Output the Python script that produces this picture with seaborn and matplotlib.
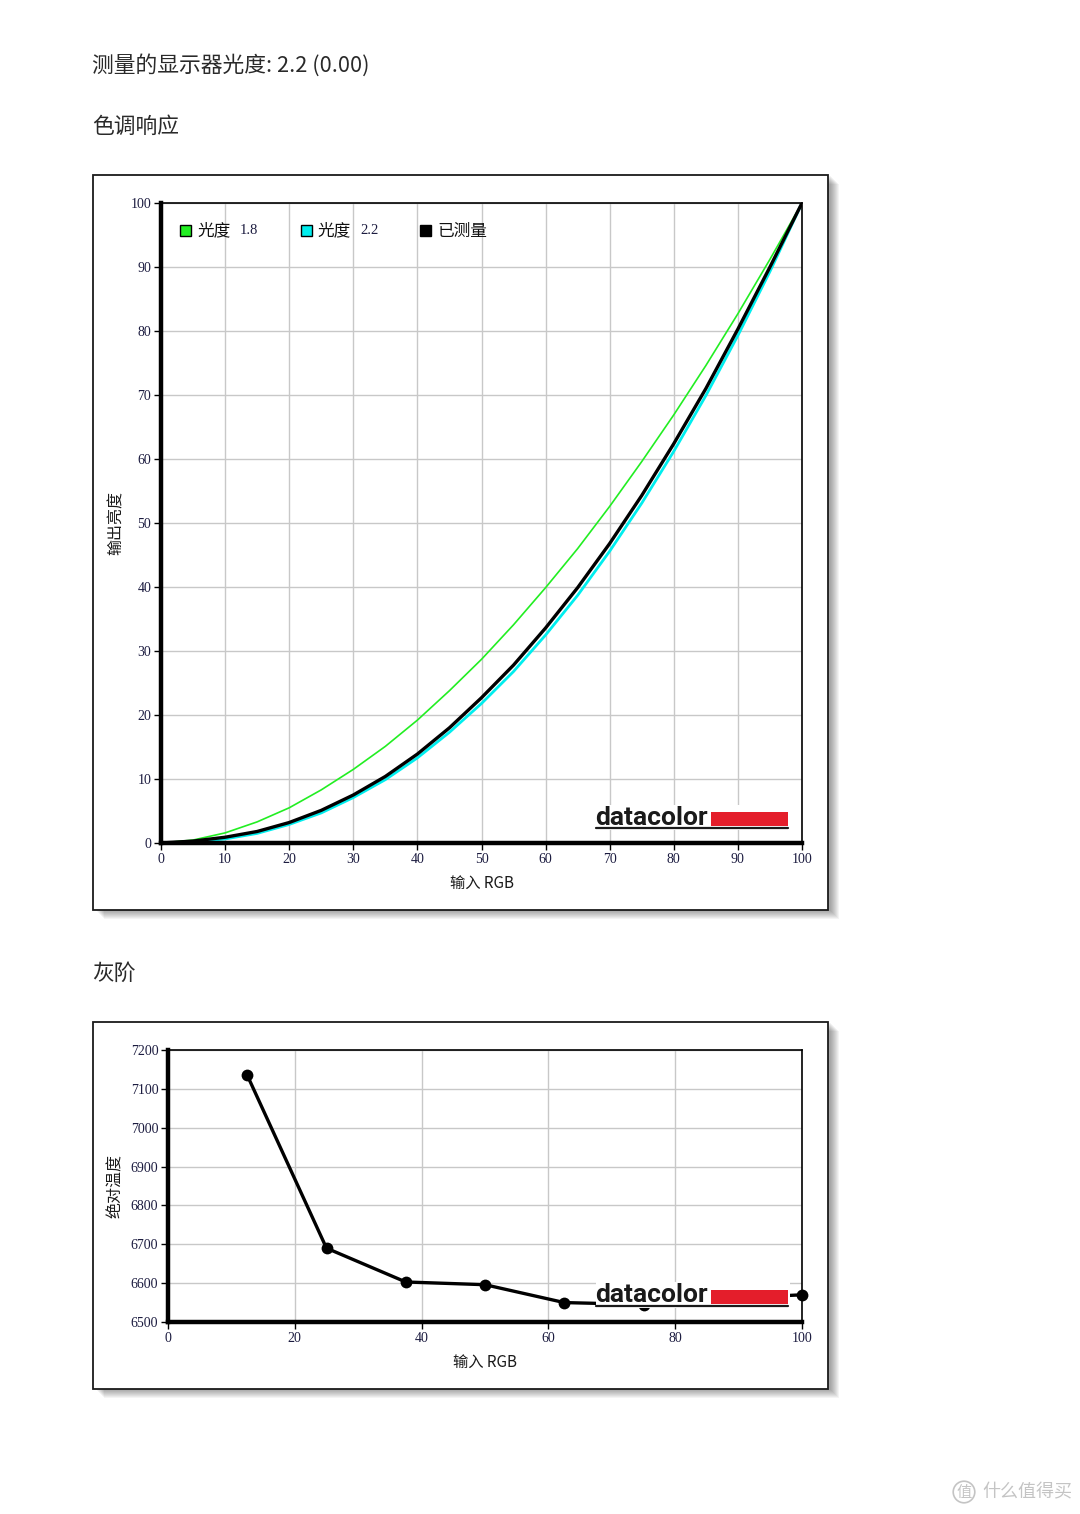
import numpy as np
import pandas as pd
import matplotlib
matplotlib.use("Agg")
import matplotlib.pyplot as plt
from matplotlib.patches import Rectangle
from matplotlib.lines import Line2D
import seaborn as sns

# ---------------- data ----------------
rgb_in = [0, 5, 10, 15, 20, 25, 30, 35, 40, 45, 50, 55, 60, 65, 70, 75, 80, 85, 90, 95, 100]
gamma18 = [0, 0.46, 1.58, 3.3, 5.5, 8.3, 11.5, 15.1, 19.2, 23.8, 28.7, 34.1, 39.9, 46.0, 52.6, 59.6, 66.9, 74.6, 82.7, 91.2, 100]
gamma22 = [0, 0.14, 0.63, 1.5, 2.9, 4.7, 7.1, 9.9, 13.3, 17.3, 21.8, 26.8, 32.5, 38.7, 45.6, 53.1, 61.2, 69.9, 79.3, 89.3, 100]
measured = [0, 0.3, 0.9, 1.8, 3.2, 5.1, 7.5, 10.4, 13.9, 18.0, 22.7, 27.8, 33.6, 39.9, 46.8, 54.3, 62.4, 71.0, 80.3, 90.0, 100]

gray_in = [12.5, 25, 37.5, 50, 62.5, 75, 87.5, 100]
gray_cct = [7135, 6690, 6603, 6596, 6550, 6545, 6560, 6570]

x_ticks1 = list(range(0, 101, 10))
y_ticks1 = list(range(0, 101, 10))
x_ticks2 = list(range(0, 101, 20))
y_ticks2 = list(range(6500, 7201, 100))

legend_names = ["光度", "光度", "已测量"]
legend_nums = ["1.8", "2.2", ""]
legend_colors = ["#22ee22", "#00eeee", "#000000"]

# ---------------- style ----------------
sns.set_theme(style="white")
plt.rcParams["font.family"] = ["Noto Sans CJK SC", "DejaVu Sans"]

W, H = 1080, 1514
fig = plt.figure(figsize=(W / 100, H / 100), dpi=100)
fig.patch.set_facecolor("white")


def P(x, y):
    return (x / W, 1 - y / H)


def panel(x0, y0, x1, y1):
    for i in range(1, 10):
        fig.add_artist(Rectangle(P(x0 + i + 2, y1 + i), (x1 - x0) / W, (y1 - y0) / H,
                                 transform=fig.transFigure, fc="black", ec="none",
                                 alpha=0.045, zorder=-3))
    fig.add_artist(Rectangle(P(x0, y1), (x1 - x0) / W, (y1 - y0) / H,
                             transform=fig.transFigure, fc="white", ec="#1a1a1a",
                             lw=1.3, zorder=-1))


def logo(x0, y_top, y_bot, baseline, bar_top, bar_bot, under):
    fig.add_artist(Rectangle(P(x0, y_bot), (790 - x0) / W, (y_bot - y_top) / H,
                             transform=fig.transFigure, fc="white", ec="none", zorder=5))
    fig.text(*P(x0 - 1, baseline), "datacolor", fontsize=19, fontweight="bold",
             family=["Roboto", "DejaVu Sans"], color="#1a1a1a", ha="left",
             va="baseline", zorder=6)
    fig.add_artist(Rectangle(P(711, bar_bot), (788 - 711) / W, (bar_bot - bar_top) / H,
                             transform=fig.transFigure, fc="#e41e2b", ec="none", zorder=6))
    fig.add_artist(Line2D([x0 / W, 788 / W], [1 - under / H, 1 - under / H],
                          transform=fig.transFigure, color="#1a1a1a", lw=1.6, zorder=6))


tick_color = "#1c1c40"
serif = ["Liberation Serif", "DejaVu Serif"]


def style_axes(ax, xt, yt):
    ax.set_xticks(xt)
    ax.set_yticks(yt)
    ax.grid(True, color="#c8c8c8", lw=1.0)
    ax.set_axisbelow(True)
    for s in ["left", "bottom"]:
        ax.spines[s].set_linewidth(3.2)
        ax.spines[s].set_color("black")
        ax.spines[s].set_zorder(4)
    for s in ["top", "right"]:
        ax.spines[s].set_linewidth(1.2)
        ax.spines[s].set_color("black")
    ax.tick_params(axis="both", direction="out", length=5, width=1, color="black",
                   labelsize=10, labelcolor=tick_color, pad=2, left=True, bottom=True)
    for lab in ax.get_xticklabels() + ax.get_yticklabels():
        lab.set_family(serif)


# ---------------- titles ----------------
fig.text(*P(92, 65), "测量的显示器光度: 2.2 (0.00)", fontsize=15.7, color="#2a2a2a",
         ha="left", va="center")
fig.text(*P(92, 127), "色调响应", fontsize=15.7, color="#2a2a2a", ha="left", va="center")
fig.text(*P(92, 974), "灰阶", fontsize=15.7, color="#2a2a2a", ha="left", va="center")

# ---------------- panel 1 ----------------
panel(93, 175, 828, 910)
ax1 = fig.add_axes([161 / W, 1 - 843 / H, (802 - 161) / W, (843 - 203) / H])
df1 = pd.DataFrame({"x": rgb_in, "g18": gamma18, "g22": gamma22, "m": measured})
sns.lineplot(data=df1, x="x", y="g18", ax=ax1, color=legend_colors[0], lw=1.2, zorder=2)
sns.lineplot(data=df1, x="x", y="g22", ax=ax1, color=legend_colors[1], lw=2.0, zorder=2)
sns.lineplot(data=df1, x="x", y="m", ax=ax1, color="black", lw=2.4, zorder=3)
ax1.set_xlim(0, 100)
ax1.set_ylim(0, 100)
style_axes(ax1, x_ticks1, y_ticks1)
ax1.set_xlabel("输入 RGB", fontsize=11, color="#1a1a1a")
ax1.set_ylabel("输出亮度", fontsize=11.5, color="#1a1a1a")
ax1.xaxis.set_label_coords(0.5, -0.05)
ax1.yaxis.set_label_coords(-0.056, 0.5)

# legend (manual)
for (sx, tx, nx), name, num, col in zip([(180, 197, 240), (301, 317, 360), (420, 437, 0)],
                                         legend_names, legend_nums, legend_colors):
    fig.add_artist(Rectangle(P(sx, 236), 11 / W, 11 / H, transform=fig.transFigure,
                             fc=col, ec="black", lw=1.0, zorder=5))
    fig.text(*P(tx, 231), name, fontsize=12, color="#111111", ha="left", va="center")
    if num:
        fig.text(*P(nx, 231), num, fontsize=10.5, family=serif, color=tick_color,
                 ha="left", va="center")

logo(596, 805, 830, 825, 812, 826, 828.5)

# ---------------- panel 2 ----------------
panel(93, 1022, 828, 1389)
ax2 = fig.add_axes([168 / W, 1 - 1322 / H, (802 - 168) / W, (1322 - 1050) / H])
df2 = pd.DataFrame({"x": gray_in, "cct": gray_cct})
sns.lineplot(data=df2, x="x", y="cct", ax=ax2, color="black", lw=2.4, marker="o",
             markersize=8.5, markeredgewidth=0, clip_on=False, zorder=3)
ax2.set_xlim(0, 100)
ax2.set_ylim(6500, 7200)
style_axes(ax2, x_ticks2, y_ticks2)
ax2.set_xlabel("输入 RGB", fontsize=11, color="#1a1a1a")
ax2.set_ylabel("绝对温度", fontsize=11.5, color="#1a1a1a")
ax2.xaxis.set_label_coords(0.5, -0.118)
ax2.yaxis.set_label_coords(-0.069, 0.5)

logo(596, 1282, 1308, 1302, 1290, 1304, 1306)

# ---------------- watermark ----------------
fig.text(*P(964, 1492), "值", fontsize=11, color="#c4c4c4", ha="center", va="center",
         bbox=dict(boxstyle="circle,pad=0.15", fc="none", ec="#c4c4c4", lw=1.2))
fig.text(*P(982, 1492), "什么值得买", fontsize=13, color="#c4c4c4", ha="left", va="center")

fig.savefig("out.png", dpi=100)
